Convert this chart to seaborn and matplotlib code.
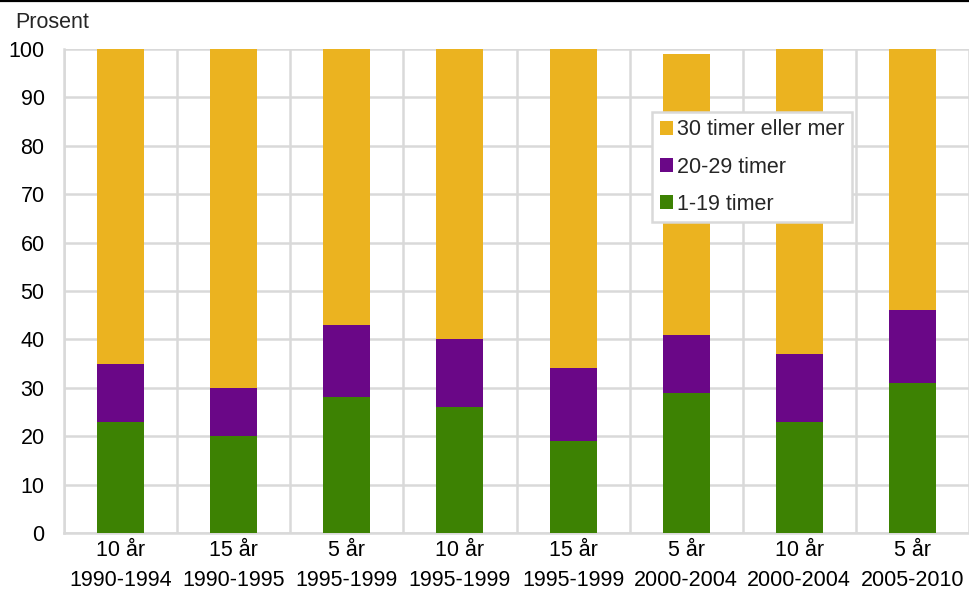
import matplotlib
matplotlib.use("Agg")
import matplotlib.pyplot as plt
import numpy as np
import pandas as pd
import seaborn as sns
from matplotlib.lines import Line2D
from matplotlib.patches import Patch

durations = ["10 år", "15 år", "5 år", "10 år", "15 år", "5 år", "10 år", "5 år"]
periods = ["1990-1994", "1990-1995", "1995-1999", "1995-1999",
           "1995-1999", "2000-2004", "2000-2004", "2005-2010"]
timer_1_19 = [23, 20, 28, 26, 19, 29, 23, 31]
timer_20_29 = [12, 10, 15, 14, 15, 12, 14, 15]
timer_30_plus = [65, 70, 57, 60, 66, 58, 63, 54]

series_names = ["30 timer eller mer", "20-29 timer", "1-19 timer"]
colors = {"30 timer eller mer": "#EBB320", "20-29 timer": "#6A0787", "1-19 timer": "#3D8203"}

labels = [f"{d}\n{p}" for d, p in zip(durations, periods)]
df = pd.DataFrame({
    "kategori": labels,
    "1-19 timer": timer_1_19,
    "20-29 timer": np.add(timer_1_19, timer_20_29),
    "30 timer eller mer": np.add(np.add(timer_1_19, timer_20_29), timer_30_plus),
})

sns.set_theme(style="white")
plt.rcParams["font.family"] = ["Liberation Sans", "DejaVu Sans"]
grid_col = "#d9d9d9"
fs = 15.5

fig = plt.figure(figsize=(9.69, 5.90), dpi=100)
ax = fig.add_axes([64 / 969, 57 / 590, 905 / 969, 484 / 590])

# stacked bars drawn as cumulative totals, largest first
for name in series_names:
    sns.barplot(data=df, x="kategori", y=name, color=colors[name], saturation=1,
                width=0.415, linewidth=0, ax=ax, zorder=3)

ax.set_ylim(0, 100)
ax.set_xlim(-0.5, 7.5)
ax.set_yticks(range(0, 101, 10))
ax.set_xlabel("")
ax.set_ylabel("")
ax.set_xticks(range(8))
ax.set_xticklabels(labels, linespacing=1.55)
ax.set_xticks(np.arange(-0.5, 8, 1), minor=True)

ax.grid(axis="y", color=grid_col, lw=1.8, zorder=0)
ax.grid(axis="x", which="minor", color=grid_col, lw=1.8, zorder=0)
ax.tick_params(axis="y", length=0, pad=14, labelsize=fs, colors="black")
ax.tick_params(axis="x", which="major", length=0, pad=5, labelsize=fs, colors="black")
ax.tick_params(axis="x", which="minor", length=58, width=1.8, color=grid_col, direction="out")
for side, sp in ax.spines.items():
    sp.set_visible(side in ("left", "bottom"))
    sp.set_color(grid_col)
    sp.set_linewidth(1.8)

handles = [Patch(facecolor=colors[n], edgecolor="none") for n in series_names]
leg = ax.legend(handles, series_names, loc="upper left", bbox_to_anchor=(0.65, 0.87),
                borderaxespad=0, fontsize=fs, frameon=True, fancybox=False, framealpha=1,
                handlelength=0.6, handleheight=0.6, handletextpad=0.2,
                labelspacing=0.75, borderpad=0.35)
leg.get_frame().set_edgecolor(grid_col)
leg.get_frame().set_linewidth(1.8)
leg.set_zorder(5)

fig.text(15 / 969, 1 - 22 / 590, "Prosent", fontsize=fs, va="center", ha="left")
fig.add_artist(Line2D([0, 1], [1 - 1 / 590, 1 - 1 / 590], color="black", lw=1.6,
                      transform=fig.transFigure))

fig.savefig("out.png", dpi=100)
